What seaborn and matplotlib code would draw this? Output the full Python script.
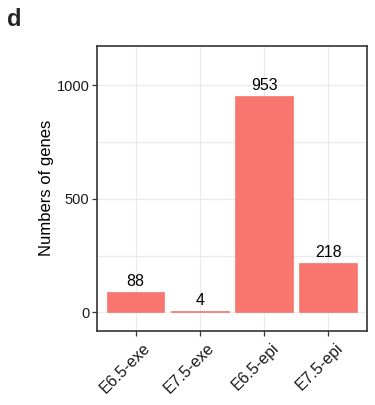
import matplotlib
matplotlib.use("Agg")
import matplotlib.pyplot as plt
import matplotlib.transforms as mtransforms
import seaborn as sns
import pandas as pd

# Number of genes per sample group
groups = ["E6.5-exe", "E7.5-exe", "E6.5-epi", "E7.5-epi"]
gene_counts = [88, 4, 953, 218]
y_ticks = [0, 500, 1000]
y_minor = [250, 750]

df = pd.DataFrame({"group": groups, "count": gene_counts})

sns.set_theme(style="white")
plt.rcParams["font.family"] = ["Liberation Sans", "DejaVu Sans"]

fig = plt.figure(figsize=(3.75, 4.05), dpi=100)
ax = fig.add_axes([97 / 375, 74.5 / 405, 270 / 375, 284.5 / 405])

bar_color = "#F8766D"
sns.barplot(data=df, x="group", y="count", color=bar_color, saturation=1,
            width=0.9, edgecolor=bar_color, linewidth=0.5, ax=ax, zorder=3)

for i, v in enumerate(gene_counts):
    ax.text(i, v + 27, str(v), ha="center", va="baseline", fontsize=11.5,
            color="black", zorder=4)

ax.set_xlim(-0.6, 3.6)
ax.set_ylim(-80, 1172)
ax.set_yticks(y_ticks)
ax.set_yticks(y_minor, minor=True)
ax.grid(True, which="both", color="#EBEBEB", linewidth=1.0, zorder=0)
ax.set_axisbelow(True)

for s in ax.spines.values():
    s.set_color("#333333")
    s.set_linewidth(1.2)

ax.tick_params(axis="both", which="major", length=3.5, width=0.9,
               color="#333333", labelcolor="#1a1a1a",
               left=True, bottom=True)
ax.tick_params(axis="y", which="major", pad=2, labelsize=10.5)
ax.tick_params(axis="x", which="major", pad=3.5, labelsize=11.5)
ax.tick_params(axis="y", which="minor", length=0)
ax.set_xticks(range(len(groups)))
ax.set_xticklabels(groups, rotation=45, ha="right", rotation_mode="anchor")

# shift rotated category labels slightly right, as in ggplot's hjust/vjust
shift = mtransforms.ScaledTranslation(7 / 100, 0, fig.dpi_scale_trans)
for lbl in ax.get_xticklabels():
    lbl.set_transform(lbl.get_transform() + shift)

ax.set_xlabel("")
ax.set_ylabel("Numbers of genes", fontsize=12, color="black", labelpad=1.5)

fig.text(7 / 375, 1 - 19 / 405, "d", fontsize=17, fontweight="bold",
         va="center", ha="left")

fig.savefig("out.png", dpi=100, facecolor="white")
